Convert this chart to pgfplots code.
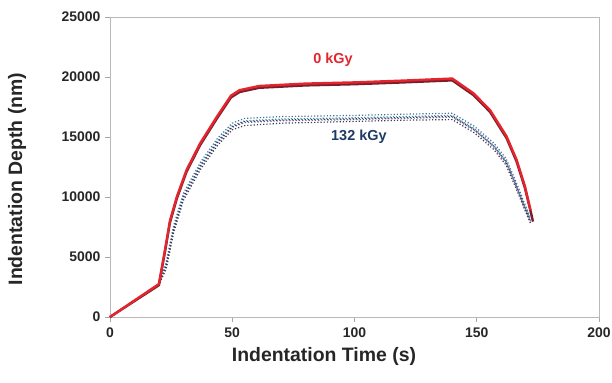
\documentclass[border=0pt]{standalone}
\usepackage{pgfplots}
\pgfplotsset{compat=1.18}
\usepackage{fontspec}
\setmainfont{Liberation Sans}
\definecolor{cred}{HTML}{E3262E}
\definecolor{cdred}{HTML}{7A1E2C}
\definecolor{cnavy}{HTML}{1F3A64}
\definecolor{cb1}{HTML}{2B3F6B}
\definecolor{cb2}{HTML}{4F6F9A}
\definecolor{cb3}{HTML}{3A9A9A}
\definecolor{cb4}{HTML}{8A5A9A}
\definecolor{cb5}{HTML}{3C3C50}
\begin{document}
\begin{tikzpicture}
\useasboundingbox (-110bp,-66bp) rectangle (502bp,317bp);
\begin{axis}[
  scale only axis, width=489bp, height=300bp,
  xmin=0, xmax=200, ymin=0, ymax=25000,
  xtick={0,50,100,150,200}, ytick={0,5000,10000,15000,20000,25000},
  scaled y ticks=false,
  /pgf/number format/set thousands separator={},
  /pgf/number format/assume math mode=true,
  tick label style={font=\fontsize{14}{14}\selectfont\bfseries, text=black!85},
  xticklabel style={yshift=-2bp},
  yticklabel style={xshift=-1bp},
  tick align=outside, major tick length=5bp,
  xtick pos=bottom, ytick pos=left,
  tick style={gray!70, line width=0.6pt},
  axis line style={gray!55, line width=0.7pt},
  every axis x label/.style={at={(axis description cs:0.4376,-0.13)}, anchor=center},
  every axis y label/.style={at={(axis description cs:-0.19,0.46)}, rotate=90, anchor=center},
  label style={font=\fontsize{19.5}{19.5}\selectfont\bfseries, text=black!85},
  xlabel={Indentation Time (s)},
  ylabel={Indentation Depth (nm)},
  clip=false,
]
% 132 kGy (dotted)
\addplot[cb2, dotted, line width=1.2pt] coordinates {(0,0)(20,2700)(23,4600)(26,7600)(30,10300)(37,12900)(44,14900)(50,16150)(55,16550)(70,16700)(100,16800)(120,16900)(140,16980)(149,15900)(157,14500)(162,13200)(166,11300)(169.5,9500)(172,8300)};
\addplot[cb3, dotted, line width=1.2pt] coordinates {(0,0)(20,2700)(23,4400)(26,7400)(30,10100)(37,12700)(44,14700)(50,15950)(55,16350)(70,16500)(100,16600)(120,16700)(140,16800)(149,15700)(157,14300)(162,13000)(166,11100)(169.5,9300)(172,8100)};
\addplot[cb4, dotted, line width=1.2pt] coordinates {(0,0)(20,2700)(23,4200)(26,7200)(30,9900)(37,12500)(44,14500)(50,15800)(55,16200)(70,16350)(100,16450)(120,16550)(140,16650)(149,15550)(157,14150)(162,12850)(166,10950)(169.5,9150)(172,7950)};
\addplot[cb5, dotted, line width=1.2pt] coordinates {(0,0)(20,2700)(23,4000)(26,7000)(30,9700)(37,12300)(44,14300)(50,15600)(55,15950)(70,16150)(100,16300)(120,16400)(140,16450)(149,15350)(157,13950)(162,12650)(166,10750)(169.5,9000)(172,7800)};
\addplot[cb1, dotted, line width=1.2pt] coordinates {(0,0)(20,2700)(23,4300)(26,7300)(30,10000)(37,12600)(44,14600)(50,15850)(55,16280)(70,16420)(100,16520)(120,16620)(140,16720)(149,15620)(157,14220)(162,12920)(166,11020)(169.5,9220)(172,8000)};
% 0 kGy (solid)
\addplot[cdred, line width=2.4pt] coordinates {(0,0)(20,2650)(22.5,5450)(24.5,7850)(27.3,9850)(31.3,12100)(36.8,14300)(43.6,16500)(49.5,18300)(53,18750)(61,19100)(80,19300)(100,19400)(120,19550)(140,19720)(148.6,18500)(155.4,17100)(162.2,14900)(166.3,12950)(169.7,10750)(172.4,8500)(173,7950)};
\addplot[cred, line width=2.4pt] coordinates {(0,0)(20,2750)(22.5,5600)(24.5,8000)(27.3,10000)(31.3,12250)(36.8,14450)(43.6,16650)(49.5,18450)(53,18900)(61,19250)(80,19450)(100,19550)(120,19700)(140,19870)(148.6,18650)(155.4,17250)(162.2,15050)(166.3,13100)(169.7,10900)(172,8900)};
\node[text=cred, font=\fontsize{14.5}{14.5}\selectfont\bfseries] at (axis cs:91.2,21420) {0 kGy};
\node[text=cnavy, font=\fontsize{14.5}{14.5}\selectfont\bfseries] at (axis cs:101.8,15030) {132 kGy};
\end{axis}
\end{tikzpicture}
\end{document}
